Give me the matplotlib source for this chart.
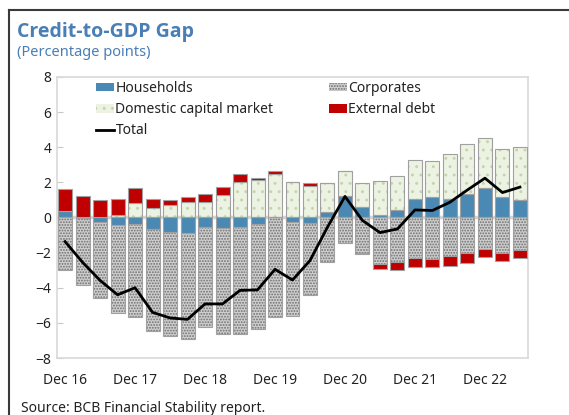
import numpy as np
import matplotlib
matplotlib.use("Agg")
import matplotlib.pyplot as plt
from matplotlib.patches import Patch
from matplotlib.lines import Line2D

plt.rcParams['font.family'] = ['Noto Sans', 'DejaVu Sans']
plt.rcParams['hatch.linewidth'] = 0.9

# quarterly observations, Dec 16 .. Jun 23
quarters = ["Dec 16", "Mar 17", "Jun 17", "Sep 17", "Dec 17", "Mar 18", "Jun 18",
            "Sep 18", "Dec 18", "Mar 19", "Jun 19", "Sep 19", "Dec 19", "Mar 20",
            "Jun 20", "Sep 20", "Dec 20", "Mar 21", "Jun 21", "Sep 21", "Dec 21",
            "Mar 22", "Jun 22", "Sep 22", "Dec 22", "Mar 23", "Jun 23"]

households = [0.38, -0.05, -0.27, -0.43, -0.37, -0.65, -0.81, -0.90, -0.56, -0.62,
              -0.52, -0.37, 0.05, -0.27, -0.32, 0.31, 1.24, 0.62, 0.16, 0.44,
              1.04, 1.17, 1.05, 1.36, 1.70, 1.17, 1.01]
corporates = [-3.00, -3.80, -4.33, -5.03, -5.28, -5.80, -5.94, -6.04, -5.69, -6.01,
              -6.11, -6.00, -5.65, -5.32, -4.07, -2.51, -1.43, -2.00, -2.65, -2.55,
              -2.32, -2.36, -2.21, -2.02, -1.79, -2.02, -1.85]
domestic = [0.00, 0.00, 0.00, 0.14, 0.84, 0.52, 0.71, 0.90, 0.90, 1.26,
            2.02, 2.14, 2.41, 2.04, 1.81, 1.67, 1.41, 1.33, 1.94, 1.92,
            2.25, 2.03, 2.58, 2.81, 2.83, 2.71, 3.02]
external = [1.27, 1.22, 1.00, 0.91, 0.82, 0.53, 0.29, 0.27, 0.44, 0.46,
            0.44, 0.11, 0.19, 0.00, 0.14, 0.00, 0.00, -0.10, -0.30, -0.45,
            -0.52, -0.44, -0.57, -0.59, -0.48, -0.46, -0.46]
total = [-1.37, -2.55, -3.58, -4.40, -4.00, -5.40, -5.72, -5.80, -4.92, -4.92,
         -4.15, -4.12, -2.95, -3.56, -2.45, -0.55, 1.20, -0.17, -0.86, -0.65,
         0.43, 0.40, 0.87, 1.57, 2.24, 1.42, 1.73]

tick_labels = ["Dec 16", "Dec 17", "Dec 18", "Dec 19", "Dec 20", "Dec 21", "Dec 22"]

TITLE_BLUE = '#4a7fb5'
styles = {
    'Households': dict(color='#4a89b3', hatch=None, hcolor=None),
    'Domestic capital market': dict(color='#edf3e2', hatch='..', hcolor='#c5d3b0'),
    'Corporates': dict(color='#cfcfcf', hatch='......', hcolor='#6e6e6e'),
    'External debt': dict(color='#c00000', hatch=None, hcolor=None),
}
series = {'Households': households, 'Domestic capital market': domestic,
          'Corporates': corporates, 'External debt': external}

fig = plt.figure(figsize=(5.69, 4.15), dpi=100)
ax = fig.add_axes([57/569, 57/415, 471/569, 281/415])

x = np.arange(len(quarters))
w = 0.8
pos = np.zeros(len(x))
neg = np.zeros(len(x))
for name, vals in series.items():
    v = np.array(vals)
    bottom = np.where(v >= 0, pos, neg)
    st = styles[name]
    if st['hatch']:
        ax.bar(x, v, w, bottom=bottom, color=st['color'], hatch=st['hatch'],
               edgecolor=st['hcolor'], linewidth=0, zorder=2)
        ax.bar(x, v, w, bottom=bottom, fill=False, edgecolor='#a0a0a0',
               linewidth=0.8, zorder=3)
    else:
        ax.bar(x, v, w, bottom=bottom, color=st['color'], edgecolor='#a0a0a0',
               linewidth=0.8, zorder=3)
    pos = np.where(v >= 0, pos + v, pos)
    neg = np.where(v < 0, neg + v, neg)

ax.axhline(0, color='#d4d4d4', lw=2.5, zorder=1)
ax.plot(x, total, color='black', lw=2, zorder=4)

ax.set_xlim(-0.46, len(x) - 0.54)
ax.set_ylim(-8, 8)
ax.set_yticks(range(-8, 9, 2))
ax.set_xticks(x[::4])
ax.set_xticklabels(tick_labels)
ax.tick_params(axis='x', length=0, pad=11, labelsize=10, colors='#222222')
ax.tick_params(axis='y', direction='in', length=4, width=0.8, color='#c8c8c8',
               pad=4, labelsize=10, labelcolor='#222222')
for s in ax.spines.values():
    s.set_color('#d9d9d9')
    s.set_linewidth(1.2)

handles = []
for name in ['Households', 'Corporates', 'Domestic capital market', 'External debt']:
    st = styles[name]
    if st['hatch']:
        handles.append(Patch(facecolor=st['color'], hatch=st['hatch'],
                             edgecolor=st['hcolor'], linewidth=0))
    else:
        handles.append(Patch(facecolor=st['color'], edgecolor='none'))
handles.append(Line2D([], [], color='black', lw=2))
labels = ['Households', 'Corporates', 'Domestic capital market', 'External debt', 'Total']
# reorder for two-column row-wise layout
order = [0, 2, 4, 1, 3]
leg = fig.legend([handles[i] for i in order], [labels[i] for i in order],
                 ncol=2, loc='upper left', bbox_to_anchor=(96/569, 1 - 81/415),
                 frameon=False, fontsize=10, handlelength=1.3, handleheight=0.55,
                 handletextpad=0.1, columnspacing=4.0, labelspacing=0.45,
                 borderpad=0, borderaxespad=0)
for t in leg.get_texts():
    t.set_color('#222222')

fig.text(17/569, 1 - 32/415, 'Credit-to-GDP Gap', fontsize=14, fontweight='bold',
         family=['Open Sans', 'Lato', 'DejaVu Sans'],
         color=TITLE_BLUE, va='center', ha='left')
fig.text(17/569, 1 - 53/415, '(Percentage points)', fontsize=10.5,
         color=TITLE_BLUE, va='center', ha='left')
fig.text(21/569, 1 - 408/415, 'Source: BCB Financial Stability report.',
         fontsize=10, color='#222222', va='center', ha='left')

# outer frame (top and left edges)
fig.add_artist(Line2D([9/569, 1], [1 - 10/415, 1 - 10/415], color='#3a3a3a', lw=1.5))
fig.add_artist(Line2D([9/569, 9/569], [0, 1 - 10/415], color='#3a3a3a', lw=1.5))

fig.savefig('out.png', dpi=100)
